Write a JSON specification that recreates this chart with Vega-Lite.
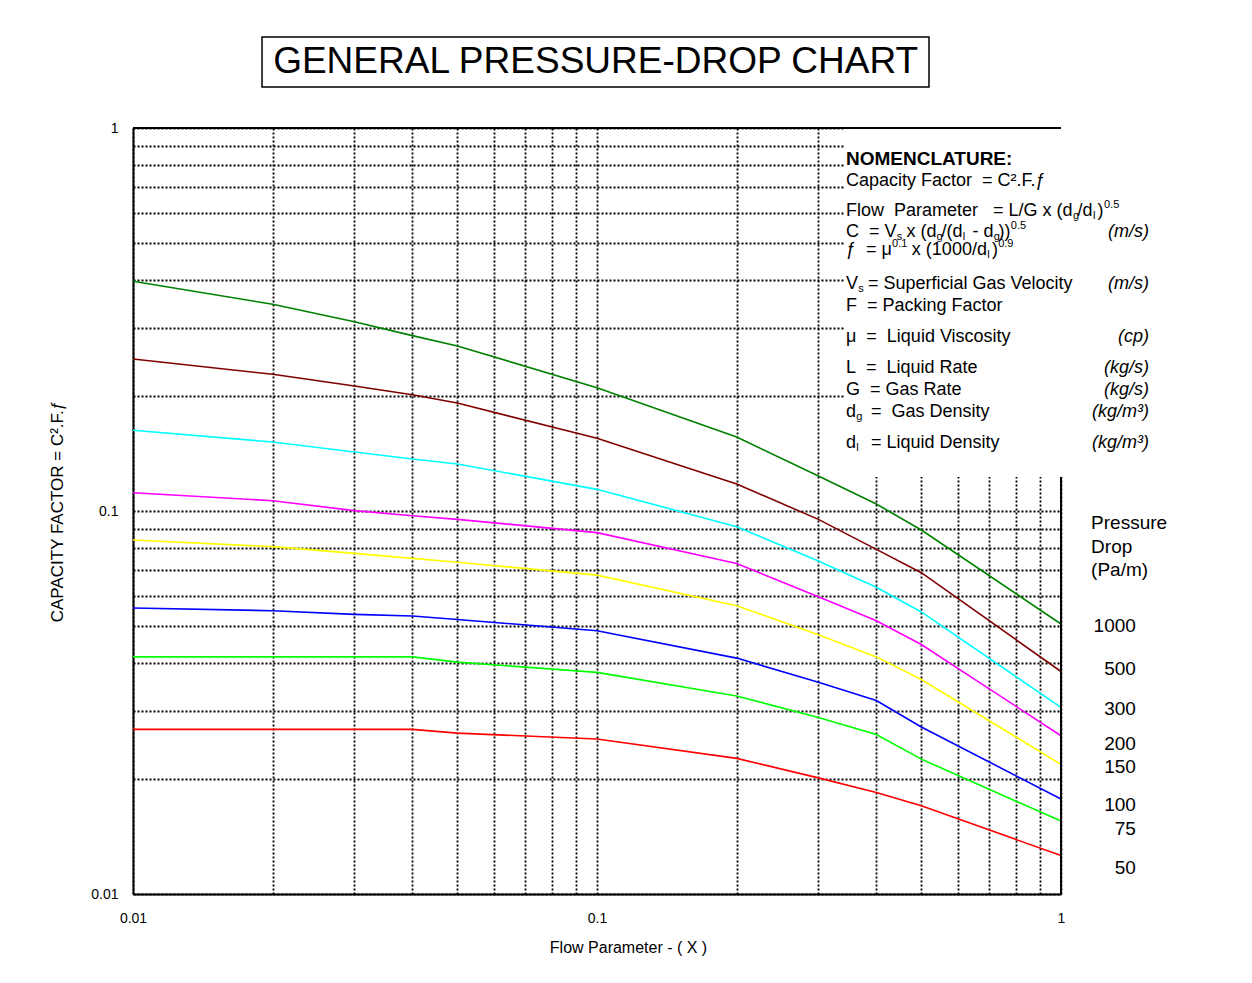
{
  "$schema": "https://vega.github.io/schema/vega-lite/v6.json",
  "width": 928,
  "height": 766,
  "autosize": {"type": "none"},
  "padding": {"left": 133, "top": 128, "right": 191, "bottom": 89},
  "background": "white",
  "config": {
    "view": {"stroke": null},
    "text": {"font": "Liberation Sans", "fontSize": 18, "align": "left", "baseline": "middle", "color": "black"},
    "axis": {"labelFont": "Liberation Sans", "titleFont": "Liberation Sans", "labelColor": "black", "titleColor": "black", "titleFontWeight": "normal"}
  },
  "datasets": {
    "curves": [
      {"pd": "1000", "x": 0.01, "cf": 0.398}, {"pd": "1000", "x": 0.02, "cf": 0.3465}, {"pd": "1000", "x": 0.03, "cf": 0.312}, {"pd": "1000", "x": 0.04, "cf": 0.287}, {"pd": "1000", "x": 0.05, "cf": 0.2697}, {"pd": "1000", "x": 0.1, "cf": 0.2099}, {"pd": "1000", "x": 0.2, "cf": 0.156}, {"pd": "1000", "x": 0.3, "cf": 0.1234}, {"pd": "1000", "x": 0.4, "cf": 0.1043}, {"pd": "1000", "x": 0.5, "cf": 0.0892}, {"pd": "1000", "x": 1, "cf": 0.0507},
      {"pd": "500", "x": 0.01, "cf": 0.2494}, {"pd": "500", "x": 0.02, "cf": 0.2275}, {"pd": "500", "x": 0.03, "cf": 0.212}, {"pd": "500", "x": 0.04, "cf": 0.2012}, {"pd": "500", "x": 0.05, "cf": 0.1914}, {"pd": "500", "x": 0.1, "cf": 0.1548}, {"pd": "500", "x": 0.2, "cf": 0.1176}, {"pd": "500", "x": 0.3, "cf": 0.0951}, {"pd": "500", "x": 0.4, "cf": 0.0794}, {"pd": "500", "x": 0.5, "cf": 0.069}, {"pd": "500", "x": 1, "cf": 0.0381},
      {"pd": "300", "x": 0.01, "cf": 0.1625}, {"pd": "300", "x": 0.02, "cf": 0.1514}, {"pd": "300", "x": 0.03, "cf": 0.1426}, {"pd": "300", "x": 0.04, "cf": 0.1367}, {"pd": "300", "x": 0.05, "cf": 0.1327}, {"pd": "300", "x": 0.1, "cf": 0.1139}, {"pd": "300", "x": 0.2, "cf": 0.091}, {"pd": "300", "x": 0.3, "cf": 0.074}, {"pd": "300", "x": 0.4, "cf": 0.0632}, {"pd": "300", "x": 0.5, "cf": 0.0545}, {"pd": "300", "x": 1, "cf": 0.0307},
      {"pd": "200", "x": 0.01, "cf": 0.1116}, {"pd": "200", "x": 0.02, "cf": 0.1064}, {"pd": "200", "x": 0.03, "cf": 0.1002}, {"pd": "200", "x": 0.04, "cf": 0.0972}, {"pd": "200", "x": 0.05, "cf": 0.0951}, {"pd": "200", "x": 0.1, "cf": 0.0878}, {"pd": "200", "x": 0.2, "cf": 0.0729}, {"pd": "200", "x": 0.3, "cf": 0.0597}, {"pd": "200", "x": 0.4, "cf": 0.0517}, {"pd": "200", "x": 0.5, "cf": 0.0448}, {"pd": "200", "x": 1, "cf": 0.0259},
      {"pd": "150", "x": 0.01, "cf": 0.084}, {"pd": "150", "x": 0.02, "cf": 0.0807}, {"pd": "150", "x": 0.03, "cf": 0.0775}, {"pd": "150", "x": 0.04, "cf": 0.0752}, {"pd": "150", "x": 0.05, "cf": 0.0735}, {"pd": "150", "x": 0.1, "cf": 0.068}, {"pd": "150", "x": 0.2, "cf": 0.0566}, {"pd": "150", "x": 0.3, "cf": 0.0475}, {"pd": "150", "x": 0.4, "cf": 0.0416}, {"pd": "150", "x": 0.5, "cf": 0.0363}, {"pd": "150", "x": 1, "cf": 0.0218},
      {"pd": "100", "x": 0.01, "cf": 0.0558}, {"pd": "100", "x": 0.02, "cf": 0.0549}, {"pd": "100", "x": 0.03, "cf": 0.0537}, {"pd": "100", "x": 0.04, "cf": 0.0532}, {"pd": "100", "x": 0.05, "cf": 0.0521}, {"pd": "100", "x": 0.1, "cf": 0.0487}, {"pd": "100", "x": 0.2, "cf": 0.0413}, {"pd": "100", "x": 0.3, "cf": 0.0357}, {"pd": "100", "x": 0.4, "cf": 0.032}, {"pd": "100", "x": 0.5, "cf": 0.0273}, {"pd": "100", "x": 1, "cf": 0.0177},
      {"pd": "75", "x": 0.01, "cf": 0.0416}, {"pd": "75", "x": 0.02, "cf": 0.0416}, {"pd": "75", "x": 0.03, "cf": 0.0416}, {"pd": "75", "x": 0.04, "cf": 0.0416}, {"pd": "75", "x": 0.05, "cf": 0.0403}, {"pd": "75", "x": 0.1, "cf": 0.0379}, {"pd": "75", "x": 0.2, "cf": 0.0329}, {"pd": "75", "x": 0.3, "cf": 0.0289}, {"pd": "75", "x": 0.4, "cf": 0.0261}, {"pd": "75", "x": 0.5, "cf": 0.0225}, {"pd": "75", "x": 1, "cf": 0.0155},
      {"pd": "50", "x": 0.01, "cf": 0.0269}, {"pd": "50", "x": 0.02, "cf": 0.0269}, {"pd": "50", "x": 0.03, "cf": 0.0269}, {"pd": "50", "x": 0.04, "cf": 0.0269}, {"pd": "50", "x": 0.05, "cf": 0.0263}, {"pd": "50", "x": 0.1, "cf": 0.0254}, {"pd": "50", "x": 0.2, "cf": 0.0226}, {"pd": "50", "x": 0.3, "cf": 0.0201}, {"pd": "50", "x": 0.4, "cf": 0.0184}, {"pd": "50", "x": 0.5, "cf": 0.017}, {"pd": "50", "x": 1, "cf": 0.0126}
    ],
    "labels": [
      {"pd": "1000", "cf": 0.0501}, {"pd": "500", "cf": 0.0387}, {"pd": "300", "cf": 0.0304}, {"pd": "200", "cf": 0.0246},
      {"pd": "150", "cf": 0.0215}, {"pd": "100", "cf": 0.0171}, {"pd": "75", "cf": 0.0148}, {"pd": "50", "cf": 0.0117}
    ]
  },
  "layer": [
    {
      "data": {"name": "curves"},
      "mark": {"type": "line", "strokeWidth": 1.6},
      "encoding": {
        "x": {
          "field": "x", "type": "quantitative",
          "scale": {"type": "log", "domain": [0.01, 1], "nice": false},
          "title": "Flow Parameter - ( X )",
          "axis": {
            "values": [0.01, 0.02, 0.03, 0.04, 0.05, 0.06, 0.07, 0.08, 0.09, 0.1, 0.2, 0.3, 0.4, 0.5, 0.6, 0.7, 0.8, 0.9, 1],
            "labelExpr": "indexof([0.01, 0.1, 1], datum.value) >= 0 ? '' + datum.value : ''",
            "grid": true, "gridColor": "black", "gridDash": [2, 2], "gridWidth": 1.8, "gridOpacity": 1,
            "domain": true, "domainColor": "black", "domainWidth": 2,
            "ticks": false, "tickSize": 0,
            "labelFontSize": 14, "labelPadding": 17, "labelBaseline": "top", "labelFlush": false, "labelOverlap": false, "labelBound": false,
            "titleFontSize": 16, "titleX": 495, "titleY": 53, "titleBaseline": "middle", "titleAlign": "center"
          }
        },
        "y": {
          "field": "cf", "type": "quantitative",
          "scale": {"type": "log", "domain": [0.01, 1], "nice": false},
          "title": "CAPACITY FACTOR = C².F.ƒ",
          "axis": {
            "values": [0.01, 0.02, 0.03, 0.04, 0.05, 0.06, 0.07, 0.08, 0.09, 0.1, 0.2, 0.3, 0.4, 0.5, 0.6, 0.7, 0.8, 0.9, 1],
            "labelExpr": "indexof([0.01, 0.1, 1], datum.value) >= 0 ? '' + datum.value : ''",
            "grid": true, "gridColor": "black", "gridDash": [2, 2], "gridWidth": 1.8, "gridOpacity": 1,
            "domain": true, "domainColor": "black", "domainWidth": 2,
            "ticks": false, "tickSize": 0,
            "labelFontSize": 14, "labelPadding": 15, "labelFlush": false, "labelOverlap": false, "labelBound": false,
            "titleFontSize": 17, "titleX": -76, "titleY": 383, "titleAngle": -90, "titleBaseline": "middle", "titleAlign": "center"
          }
        },
        "color": {
          "field": "pd", "type": "nominal",
          "scale": {"domain": ["1000", "500", "300", "200", "150", "100", "75", "50"], "range": ["#008000", "#800000", "#00FFFF", "#FF00FF", "#FFFF00", "#0000FF", "#00FF00", "#FF0000"]},
          "legend": null
        }
      }
    },
    {
      "data": {"name": "labels"},
      "mark": {"type": "text", "align": "right", "fontSize": 19},
      "encoding": {
        "x": {"datum": 1.45},
        "y": {"field": "cf", "type": "quantitative"},
        "text": {"field": "pd", "type": "nominal"}
      }
    },
    {
      "data": {"values": [{}]},
      "layer": [
        {"mark": {"type": "rect", "fill": "white", "strokeWidth": 0}, "encoding": {"x": {"datum": 0.342}, "x2": {"datum": 1.02}, "y": {"datum": 0.1227}, "y2": {"datum": 1}}},
        {"mark": {"type": "rule", "stroke": "black", "strokeWidth": 2}, "encoding": {"x": {"datum": 0.01}, "x2": {"datum": 1}, "y": {"datum": 1}}},
        {"mark": {"type": "rule", "stroke": "black", "strokeWidth": 2}, "encoding": {"x": {"datum": 1}, "y": {"datum": 0.01}, "y2": {"datum": 0.1227}}},
        {"mark": {"type": "rect", "fill": "white", "stroke": "black", "strokeWidth": 1.5}, "encoding": {"x": {"datum": 0.01897}, "x2": {"datum": 0.5194}, "y": {"datum": 1.2793}, "y2": {"datum": 1.7281}}},
        {"mark": {"type": "text", "text": "GENERAL PRESSURE-DROP CHART", "align": "center", "fontSize": 37}, "encoding": {"x": {"datum": 0.0993}, "y": {"datum": 1.487}}},
        {"mark": {"type": "text", "text": "Pressure", "fontSize": 19}, "encoding": {"x": {"datum": 1.161}, "y": {"datum": 0.093}}},
        {"mark": {"type": "text", "text": "Drop", "fontSize": 19}, "encoding": {"x": {"datum": 1.161}, "y": {"datum": 0.0805}}},
        {"mark": {"type": "text", "text": "(Pa/m)", "fontSize": 19}, "encoding": {"x": {"datum": 1.161}, "y": {"datum": 0.0701}}},
        {
          "encoding": {"x": {"datum": 0.344}},
          "layer": [
            {"mark": {"type": "text", "text": "NOMENCLATURE:", "fontWeight": "bold", "fontSize": 19}, "encoding": {"y": {"datum": 0.83}}},
            {"mark": {"type": "text", "text": "Capacity Factor\u00a0\u00a0= C².F.ƒ"}, "encoding": {"y": {"datum": 0.727}}},
            {"mark": {"type": "text", "text": "Flow\u00a0\u00a0Parameter\u00a0\u00a0\u00a0= L/G x (d\u00a0/d\u00a0)"}, "encoding": {"y": {"datum": 0.607}}},
            {"mark": {"type": "text", "text": "g", "fontSize": 11, "dx": 227, "dy": 5}, "encoding": {"y": {"datum": 0.607}}},
            {"mark": {"type": "text", "text": "l", "fontSize": 11, "dx": 247, "dy": 5}, "encoding": {"y": {"datum": 0.607}}},
            {"mark": {"type": "text", "text": "0.5", "fontSize": 11, "dx": 258, "dy": -6}, "encoding": {"y": {"datum": 0.607}}},
            {"mark": {"type": "text", "text": "C\u00a0\u00a0= V\u00a0\u00a0x (d\u00a0/(d\u00a0\u00a0- d\u00a0))"}, "encoding": {"y": {"datum": 0.535}}},
            {"mark": {"type": "text", "text": "s", "fontSize": 11, "dx": 50.8, "dy": 5}, "encoding": {"y": {"datum": 0.535}}},
            {"mark": {"type": "text", "text": "g", "fontSize": 11, "dx": 90.6, "dy": 5}, "encoding": {"y": {"datum": 0.535}}},
            {"mark": {"type": "text", "text": "l", "fontSize": 11, "dx": 116.8, "dy": 5}, "encoding": {"y": {"datum": 0.535}}},
            {"mark": {"type": "text", "text": "g", "fontSize": 11, "dx": 147.7, "dy": 5}, "encoding": {"y": {"datum": 0.535}}},
            {"mark": {"type": "text", "text": "0.5", "fontSize": 11, "dx": 164.8, "dy": -6}, "encoding": {"y": {"datum": 0.535}}},
            {"mark": {"type": "text", "text": "ƒ\u00a0\u00a0= μ\u00a0\u00a0\u00a0\u00a0x (1000/d\u00a0)"}, "encoding": {"y": {"datum": 0.48}}},
            {"mark": {"type": "text", "text": "0.1", "fontSize": 11, "dx": 46.1, "dy": -6}, "encoding": {"y": {"datum": 0.48}}},
            {"mark": {"type": "text", "text": "l", "fontSize": 11, "dx": 141.2, "dy": 5}, "encoding": {"y": {"datum": 0.48}}},
            {"mark": {"type": "text", "text": "0.9", "fontSize": 11, "dx": 152.2, "dy": -6}, "encoding": {"y": {"datum": 0.48}}},
            {"mark": {"type": "text", "text": "V\u00a0\u00a0= Superficial Gas Velocity"}, "encoding": {"y": {"datum": 0.3915}}},
            {"mark": {"type": "text", "text": "s", "fontSize": 11, "dx": 12.2, "dy": 5}, "encoding": {"y": {"datum": 0.3915}}},
            {"mark": {"type": "text", "text": "F\u00a0\u00a0= Packing Factor"}, "encoding": {"y": {"datum": 0.343}}},
            {"mark": {"type": "text", "text": "μ\u00a0\u00a0=\u00a0\u00a0Liquid Viscosity"}, "encoding": {"y": {"datum": 0.2846}}},
            {"mark": {"type": "text", "text": "L\u00a0\u00a0=\u00a0\u00a0Liquid Rate"}, "encoding": {"y": {"datum": 0.2362}}},
            {"mark": {"type": "text", "text": "G\u00a0\u00a0= Gas Rate"}, "encoding": {"y": {"datum": 0.207}}},
            {"mark": {"type": "text", "text": "d\u00a0\u00a0\u00a0=\u00a0\u00a0Gas Density"}, "encoding": {"y": {"datum": 0.1814}}},
            {"mark": {"type": "text", "text": "g", "fontSize": 11, "dx": 10.2, "dy": 5}, "encoding": {"y": {"datum": 0.1814}}},
            {"mark": {"type": "text", "text": "d\u00a0\u00a0\u00a0= Liquid Density"}, "encoding": {"y": {"datum": 0.1505}}},
            {"mark": {"type": "text", "text": "l", "fontSize": 11, "dx": 10.2, "dy": 5}, "encoding": {"y": {"datum": 0.1505}}}
          ]
        },
        {
          "encoding": {"x": {"datum": 1.548}},
          "layer": [
            {"mark": {"type": "text", "text": "(m/s)", "align": "right", "fontStyle": "italic"}, "encoding": {"y": {"datum": 0.535}}},
            {"mark": {"type": "text", "text": "(m/s)", "align": "right", "fontStyle": "italic"}, "encoding": {"y": {"datum": 0.3915}}},
            {"mark": {"type": "text", "text": "(cp)", "align": "right", "fontStyle": "italic"}, "encoding": {"y": {"datum": 0.2846}}},
            {"mark": {"type": "text", "text": "(kg/s)", "align": "right", "fontStyle": "italic"}, "encoding": {"y": {"datum": 0.2362}}},
            {"mark": {"type": "text", "text": "(kg/s)", "align": "right", "fontStyle": "italic"}, "encoding": {"y": {"datum": 0.207}}},
            {"mark": {"type": "text", "text": "(kg/m³)", "align": "right", "fontStyle": "italic"}, "encoding": {"y": {"datum": 0.1814}}},
            {"mark": {"type": "text", "text": "(kg/m³)", "align": "right", "fontStyle": "italic"}, "encoding": {"y": {"datum": 0.1505}}}
          ]
        }
      ]
    }
  ]
}
